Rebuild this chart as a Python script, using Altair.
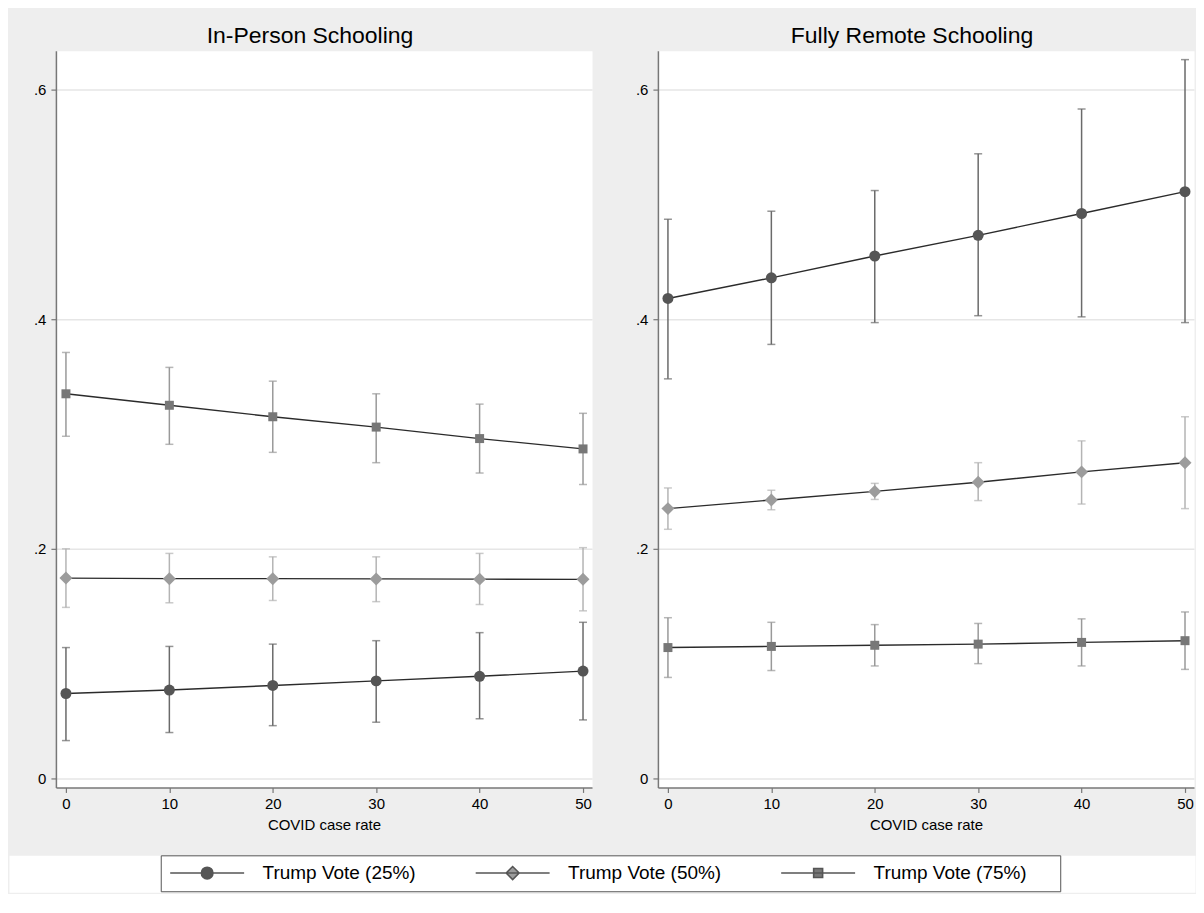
import altair as alt
import pandas as pd

# ---------------- data ----------------
x_vals = [0, 10, 20, 30, 40, 50]
panels = ["In-Person Schooling", "Fully Remote Schooling"]
series = ["Trump Vote (25%)", "Trump Vote (50%)", "Trump Vote (75%)"]

# In-Person Schooling
ip_est_25 = [0.074, 0.077, 0.081, 0.085, 0.089, 0.0935]
ip_lo_25 = [0.033, 0.040, 0.046, 0.049, 0.052, 0.051]
ip_hi_25 = [0.114, 0.115, 0.117, 0.120, 0.127, 0.136]
ip_est_50 = [0.1745, 0.174, 0.174, 0.1738, 0.1736, 0.1734]
ip_lo_50 = [0.149, 0.153, 0.155, 0.154, 0.1515, 0.146]
ip_hi_50 = [0.200, 0.196, 0.193, 0.193, 0.196, 0.201]
ip_est_75 = [0.335, 0.325, 0.315, 0.306, 0.296, 0.287]
ip_lo_75 = [0.298, 0.291, 0.284, 0.275, 0.266, 0.256]
ip_hi_75 = [0.371, 0.358, 0.346, 0.335, 0.326, 0.318]

# Fully Remote Schooling
fr_est_25 = [0.418, 0.436, 0.455, 0.473, 0.492, 0.511]
fr_lo_25 = [0.348, 0.378, 0.397, 0.403, 0.402, 0.397]
fr_hi_25 = [0.487, 0.494, 0.512, 0.544, 0.583, 0.626]
fr_est_50 = [0.235, 0.2425, 0.250, 0.258, 0.267, 0.275]
fr_lo_50 = [0.217, 0.234, 0.243, 0.242, 0.239, 0.235]
fr_hi_50 = [0.253, 0.251, 0.257, 0.275, 0.294, 0.315]
fr_est_75 = [0.114, 0.115, 0.116, 0.117, 0.1185, 0.120]
fr_lo_75 = [0.088, 0.094, 0.098, 0.100, 0.098, 0.095]
fr_hi_75 = [0.140, 0.136, 0.134, 0.135, 0.139, 0.145]

y_ticks = [0, 0.2, 0.4, 0.6]

# ---------------- styles ----------------
FONT = "Liberation Sans"
marker_shapes = ["circle", "diamond", "square"]
marker_sizes = [121, 169, 81]
marker_colors = ["#555555", "#9C9C9C", "#777777"]
bar_colors = ["#6A6A6A", "#B4B4B4", "#999999"]
legend_paths = [
    "M-5.29,0H5.29M0.83,0A0.83,0.83,0,1,1,-0.83,0A0.83,0.83,0,1,1,0.83,0Z",
    "M-5.29,0H5.29M-0.93,0L0,-0.93L0.93,0L0,0.93Z",
    "M-5.29,0H5.29M-0.64,-0.64H0.64V0.64H-0.64Z",
]

rows = []
blocks = {
    panels[0]: [(ip_est_25, ip_lo_25, ip_hi_25), (ip_est_50, ip_lo_50, ip_hi_50), (ip_est_75, ip_lo_75, ip_hi_75)],
    panels[1]: [(fr_est_25, fr_lo_25, fr_hi_25), (fr_est_50, fr_lo_50, fr_hi_50), (fr_est_75, fr_lo_75, fr_hi_75)],
}
for p, sers in blocks.items():
    for s, (e, lo, hi) in zip(series, sers):
        for i, xv in enumerate(x_vals):
            rows.append({"panel": p, "series": s, "x": xv, "est": e[i], "lo": lo[i], "hi": hi[i]})
df = pd.DataFrame(rows)

x_scale = alt.Scale(domain=[-0.97, 50.87], nice=False, zero=False)
y_scale = alt.Scale(domain=[-0.0078, 0.6338], nice=False, zero=False)

x_axis = alt.Axis(
    values=x_vals, title="COVID case rate", grid=False, format="d",
    labelFontSize=15, titleFontSize=15, titleFontWeight="normal", labelFont=FONT, titleFont=FONT,
    tickSize=5, labelPadding=4, titlePadding=6, labelFlush=False,
    domainColor="#777777", domainWidth=1.5, tickColor="#777777", tickWidth=1.2,
    labelColor="black", titleColor="black",
)
y_axis = alt.Axis(
    values=y_ticks, title=None, grid=True, gridColor="#E6E6E6", gridWidth=1.5,
    labelExpr="datum.value == 0 ? '0' : replace(format(datum.value, '.1f'), '0.', '.')",
    labelFontSize=15, labelFont=FONT, tickSize=5, labelPadding=5,
    minExtent=44, maxExtent=44,
    domainColor="#777777", domainWidth=1.5, tickColor="#777777", tickWidth=1.2,
    labelColor="black",
)

X = alt.X("x:Q", scale=x_scale, axis=x_axis)
Y = alt.Y("est:Q", scale=y_scale, axis=y_axis)
Ylo = alt.Y("lo:Q", scale=y_scale, axis=y_axis)
Yhi = alt.Y("hi:Q", scale=y_scale, axis=y_axis)


def panel(name):
    base = alt.Chart(df).transform_filter(alt.datum.panel == name)
    bars, points = [], []
    for s, shp, sz, mc, bc in zip(series, marker_shapes, marker_sizes, marker_colors, bar_colors):
        b = base.transform_filter(alt.datum.series == s)
        bars.append(b.mark_rule(color=bc, strokeWidth=1.5).encode(x=X, y=Ylo, y2="hi:Q"))
        bars.append(b.mark_tick(orient="horizontal", size=8, thickness=1.5, color=bc).encode(x=X, y=Ylo))
        bars.append(b.mark_tick(orient="horizontal", size=8, thickness=1.5, color=bc).encode(x=X, y=Yhi))
        points.append(b.mark_point(filled=True, shape=shp, size=sz, color=mc, opacity=1).encode(x=X, y=Y))
    line = base.mark_line(color="#2b2b2b", strokeWidth=1.4).encode(x=X, y=Y, detail="series:N")
    return alt.layer(*bars, line, *points).properties(
        width=537, height=738,
        title=alt.TitleParams(text=name, fontSize=23, font=FONT, fontWeight="normal", color="black",
                              anchor="middle", frame="bounds", offset=3, dx=8),
        view=alt.ViewBackground(fill="white", stroke="transparent"),
    )


leg_def = alt.Legend(
    title=" ", titleOrient="right", titlePadding=26,
    orient="none", legendX=152, legendY=0, direction="horizontal", columns=3,
    columnPadding=56, labelFontSize=19, labelFont=FONT, labelColor="black",
    symbolOffset=29, labelOffset=46,
    labelLimit=400, symbolSize=196, symbolStrokeWidth=1.6, padding=8,
    strokeColor="#555555", fillColor="white", symbolOpacity=1,
)
legend_df = pd.DataFrame({"series": series})
legend_chart = (
    alt.Chart(legend_df)
    .transform_filter("false")
    .mark_point(filled=True, opacity=1, size=196, strokeWidth=1.6)
    .encode(
        shape=alt.Shape("series:N", scale=alt.Scale(domain=series, range=legend_paths), legend=leg_def),
        fill=alt.Fill("series:N", scale=alt.Scale(domain=series, range=marker_colors), legend=leg_def),
        stroke=alt.Stroke("series:N", scale=alt.Scale(domain=series, range=["#555555"] * 3), legend=leg_def),
    )
    .properties(width=1188, height=37, view=alt.ViewBackground(fill="white", stroke="transparent"))
)

# zero-size spacer so that the legend strip starts at the left edge of the figure
spacer = (
    alt.Chart(legend_df)
    .transform_filter("false")
    .mark_point()
    .properties(width=1, height=10, view=alt.ViewBackground(fill="transparent", stroke="transparent"))
)

inner = alt.hconcat(panel(panels[0]), panel(panels[1]), spacing=20)
top = alt.hconcat(spacer, inner, spacing=0)
chart = (
    alt.vconcat(top, legend_chart, spacing=21)
    .resolve_scale(shape="independent", fill="independent", stroke="independent")
    .resolve_legend(shape="independent", fill="independent", stroke="independent")
    .properties(padding={"left": 0, "top": 15, "right": 0, "bottom": 0}, background="#EEEEEE")
    .configure(font=FONT)
)

chart.save("out.html", embed_options={"renderer": "svg", "actions": False})
